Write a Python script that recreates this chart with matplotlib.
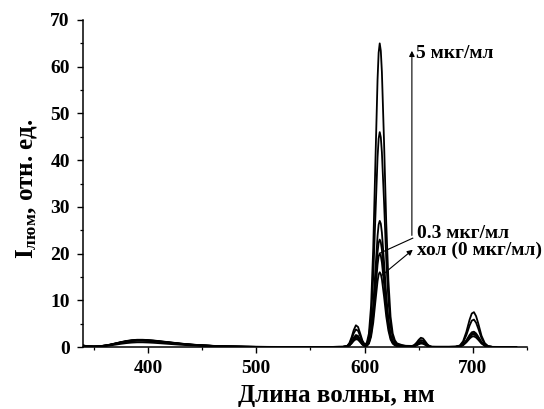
import matplotlib
matplotlib.use("Agg")
import matplotlib.pyplot as plt
from matplotlib.ticker import MultipleLocator

plt.rcParams['font.family'] = ['Liberation Serif', 'DejaVu Serif']
plt.rcParams['font.weight'] = 'bold'
plt.rcParams['mathtext.fontset'] = 'custom'
plt.rcParams['mathtext.rm'] = 'Liberation Serif:bold'
plt.rcParams['mathtext.bf'] = 'Liberation Serif:bold'
plt.rcParams['mathtext.it'] = 'Liberation Serif:bold'

# wavelength grid, nm
wavelength = [340, 345, 350, 355, 360, 365, 370, 375, 380, 385, 390, 395, 400, 405, 410,
              420, 430, 440, 450, 460, 470, 480, 490, 500, 520, 540, 560,
              576, 580, 584, 586, 588, 590, 592, 594, 596, 598, 600,
              602, 604, 606, 608, 610, 612, 613, 614, 615, 616, 618, 620, 622, 624, 626, 628, 630, 634, 638,
              644, 646, 648, 650, 652, 654, 656, 658, 660, 662, 666, 672, 678,
              684, 688, 691, 694, 697, 699, 701, 703, 705, 708, 711, 714, 718, 724, 730, 736, 740]

# 5 mkg/ml (top curve)
curve_a = [0.31, 0.16, 0.11, 0.16, 0.31, 0.51, 0.78, 1.05, 1.29, 1.46, 1.55, 1.55, 1.49, 1.40, 1.27,
           1.01, 0.74, 0.53, 0.37, 0.25, 0.16, 0.11, 0.06, 0.03, 0.02, 0.0, 0.0,
           0.03, 0.04, 0.24, 0.85, 2.07, 3.62, 4.65, 4.28, 2.87, 1.38, 0.60,
           0.84, 2.88, 8.78, 21.1, 39.5, 57.3, 63.0, 65.0, 63.4, 58.9, 43.8, 26.7, 14.3, 6.5, 2.9, 1.43, 0.78, 0.46, 0.26,
           0.23, 0.46, 0.93, 1.54, 1.98, 1.82, 1.22, 0.58, 0.20, 0.05, 0.03, 0.03, 0.03,
           0.06, 0.33, 1.24, 3.23, 5.85, 7.17, 7.46, 6.60, 5.03, 2.40, 0.83, 0.20, 0.03, 0.02, 0.02, 0.02, 0.02]

curve_b = [0.30, 0.15, 0.11, 0.15, 0.30, 0.50, 0.75, 1.02, 1.25, 1.41, 1.50, 1.50, 1.44, 1.35, 1.23,
           0.98, 0.72, 0.51, 0.36, 0.24, 0.15, 0.11, 0.06, 0.03, 0.02, 0.0, 0.0,
           0.03, 0.04, 0.20, 0.68, 1.67, 2.93, 3.76, 3.46, 2.32, 1.11, 0.47,
           0.61, 2.04, 6.21, 14.95, 27.9, 40.6, 44.6, 46.0, 44.9, 41.7, 31.0, 18.9, 10.1, 4.6, 2.07, 1.01, 0.55, 0.32, 0.18,
           0.17, 0.34, 0.70, 1.16, 1.49, 1.37, 0.92, 0.44, 0.15, 0.04, 0.03, 0.03, 0.03,
           0.06, 0.26, 0.97, 2.54, 4.60, 5.64, 5.87, 5.19, 3.95, 1.89, 0.65, 0.15, 0.02, 0.02, 0.02, 0.02, 0.02]

curve_c = [0.29, 0.15, 0.10, 0.15, 0.29, 0.48, 0.73, 0.99, 1.20, 1.36, 1.45, 1.45, 1.39, 1.31, 1.19,
           0.94, 0.70, 0.49, 0.35, 0.23, 0.15, 0.10, 0.06, 0.03, 0.01, 0.0, 0.0,
           0.03, 0.04, 0.14, 0.47, 1.14, 2.00, 2.57, 2.37, 1.59, 0.75, 0.31,
           0.37, 1.20, 3.65, 8.78, 16.4, 23.8, 26.2, 27.0, 26.4, 24.5, 18.2, 11.1, 5.94, 2.70, 1.22, 0.59, 0.32, 0.19, 0.11,
           0.11, 0.24, 0.51, 0.85, 1.09, 1.00, 0.67, 0.32, 0.11, 0.03, 0.03, 0.03, 0.03,
           0.04, 0.15, 0.54, 1.42, 2.57, 3.15, 3.28, 2.90, 2.21, 1.06, 0.36, 0.09, 0.02, 0.02, 0.02, 0.02, 0.02]

curve_d = [0.28, 0.14, 0.10, 0.14, 0.28, 0.46, 0.70, 0.95, 1.16, 1.32, 1.40, 1.40, 1.34, 1.26, 1.15,
           0.91, 0.67, 0.48, 0.34, 0.22, 0.14, 0.10, 0.06, 0.03, 0.01, 0.0, 0.0,
           0.03, 0.03, 0.12, 0.41, 1.01, 1.77, 2.28, 2.09, 1.40, 0.67, 0.28,
           0.31, 1.01, 3.11, 7.48, 14.0, 20.3, 22.3, 23.0, 22.4, 20.8, 15.5, 9.45, 5.06, 2.30, 1.04, 0.51, 0.28, 0.16, 0.09,
           0.10, 0.21, 0.46, 0.77, 0.99, 0.91, 0.61, 0.29, 0.10, 0.03, 0.03, 0.03, 0.03,
           0.04, 0.13, 0.50, 1.29, 2.34, 2.87, 2.99, 2.64, 2.01, 0.96, 0.33, 0.08, 0.02, 0.02, 0.02, 0.02, 0.02]

# 0.3 mkg/ml
curve_e = [0.27, 0.14, 0.09, 0.14, 0.27, 0.45, 0.68, 0.92, 1.12, 1.27, 1.35, 1.35, 1.30, 1.22, 1.11,
           0.88, 0.65, 0.46, 0.32, 0.22, 0.14, 0.09, 0.05, 0.03, 0.01, 0.0, 0.0,
           0.03, 0.03, 0.10, 0.36, 0.88, 1.54, 1.98, 1.82, 1.22, 0.58, 0.24,
           0.27, 0.88, 2.70, 6.50, 12.1, 17.6, 19.4, 20.0, 19.5, 18.1, 13.5, 8.22, 4.40, 2.00, 0.90, 0.44, 0.24, 0.14, 0.08,
           0.09, 0.19, 0.41, 0.69, 0.89, 0.82, 0.55, 0.26, 0.09, 0.03, 0.03, 0.03, 0.03,
           0.04, 0.12, 0.45, 1.16, 2.11, 2.58, 2.69, 2.38, 1.81, 0.86, 0.30, 0.07, 0.02, 0.02, 0.02, 0.02, 0.02]

# control, 0 mkg/ml
curve_f = [0.25, 0.12, 0.07, 0.10, 0.20, 0.33, 0.50, 0.68, 0.83, 0.94, 1.00, 1.00, 0.96, 0.90, 0.82,
           0.65, 0.48, 0.34, 0.24, 0.16, 0.10, 0.07, 0.04, 0.02, 0.01, 0.0, 0.0,
           0.03, 0.03, 0.09, 0.31, 0.75, 1.31, 1.68, 1.55, 1.04, 0.49, 0.20,
           0.22, 0.70, 2.16, 5.20, 9.71, 14.1, 15.5, 16.0, 15.6, 14.5, 10.8, 6.58, 3.52, 1.60, 0.72, 0.35, 0.19, 0.11, 0.06,
           0.07, 0.16, 0.34, 0.58, 0.74, 0.68, 0.46, 0.22, 0.08, 0.03, 0.03, 0.03, 0.03,
           0.03, 0.10, 0.38, 0.99, 1.79, 2.20, 2.29, 2.02, 1.54, 0.74, 0.25, 0.06, 0.02, 0.02, 0.02, 0.02, 0.02]

curves = [curve_a, curve_b, curve_c, curve_d, curve_e, curve_f]

label_top = "5 мкг/мл"
label_mid = "0.3 мкг/мл"
label_ctrl = "хол (0 мкг/мл)"
x_label = "Длина волны, нм"
y_label = r"$\mathbf{I}_{\mathbf{люм}}$, отн. ед."

fig = plt.figure(figsize=(5.44, 4.09), dpi=100)
ax = fig.add_axes([83/544, 1-347/409, (527-83)/544, (347-20)/409])

for c in curves:
    ax.plot(wavelength, c, color='black', lw=1.3, solid_joinstyle='round')

ax.set_xlim(340, 750)
ax.set_ylim(0, 70)
ax.xaxis.set_major_locator(MultipleLocator(100))
ax.xaxis.set_minor_locator(MultipleLocator(50))
ax.yaxis.set_major_locator(MultipleLocator(10))
ax.yaxis.set_minor_locator(MultipleLocator(5))
ax.spines['top'].set_visible(False)
ax.spines['right'].set_visible(False)
for s in ['left', 'bottom']:
    ax.spines[s].set_linewidth(1.1)
ax.tick_params(which='major', direction='out', length=4.5, width=1.0, labelsize=14, pad=5)
ax.tick_params(which='minor', direction='out', length=2.5, width=0.9)
for t in ax.get_xticklabels() + ax.get_yticklabels():
    t.set_fontweight('bold')

ax.set_xlabel(x_label, fontsize=18, fontweight='bold')
ax.set_ylabel(y_label, fontsize=18, fontweight='bold')
ax.xaxis.set_label_coords(0.57, -0.112)
ax.yaxis.set_label_coords(-0.10, 0.485)

# annotations
ax.annotate('', xy=(643.7, 64.0), xytext=(643.7, 23.3),
            arrowprops=dict(arrowstyle='-|>', color='black', lw=0.8, mutation_scale=8))
ax.text(647.5, 62.8, label_top, fontsize=14, fontweight='bold', va='center', ha='left')
ax.plot([644.5, 614.2], [23.3, 20.1], color='black', lw=0.8)
ax.text(648.0, 24.4, label_mid, fontsize=14, fontweight='bold', va='center', ha='left')
ax.annotate('', xy=(646.5, 21.2), xytext=(614.2, 15.0),
            arrowprops=dict(arrowstyle='-|>', color='black', lw=0.8, mutation_scale=8))
ax.text(648.3, 20.6, label_ctrl, fontsize=14, fontweight='bold', va='center', ha='left')

fig.savefig('out.png', dpi=100)
